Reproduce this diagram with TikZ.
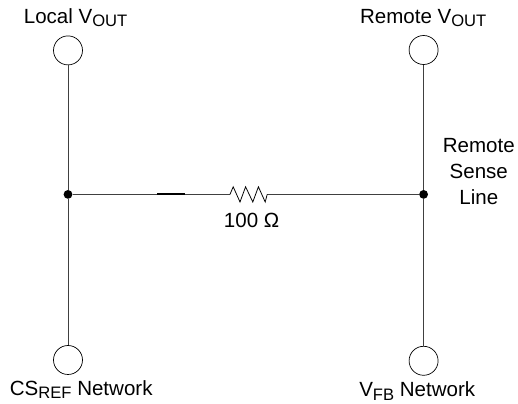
\documentclass[tikz,border=0pt]{standalone}
\usepackage{fontspec}
\setmainfont{Liberation Sans}
\newcommand{\subtxt}[1]{\raisebox{-0.35ex}{\fontsize{11.8}{12}\selectfont #1}}
\tikzset{
    pad/.style={draw, circle, minimum size=0.725cm, inner sep=0pt, line width=0.5pt},
    junction/.style={fill, circle, minimum size=0.22cm, inner sep=0pt},
    wire/.style={draw=black!75, line width=0.65pt},
    label/.style={inner sep=0pt, anchor=base, font=\fontsize{14.6}{18.5}\selectfont, align=center}
}
\begin{document}
\begin{tikzpicture}
    \useasboundingbox (0, 0) rectangle (12.95, 10.1);

    % Terminales
    \node[pad] (localout) at (1.7, 8.84) {};
    \node[pad] (remoteout) at (10.59, 8.85) {};
    \node[pad] (csref) at (1.7, 1.1) {};
    \node[pad] (vfb) at (10.59, 1.08) {};

    % Puntos de union
    \node[junction] (left) at (1.7, 5.24) {};
    \node[junction] (right) at (10.59, 5.24) {};

    % Extremos de la resistencia y del tramo grueso
    \coordinate (resin) at (5.75, 5.24);
    \coordinate (resout) at (6.68, 5.24);
    \coordinate (thickin) at (3.93, 5.24);
    \coordinate (thickout) at (4.63, 5.24);

    % Lineas
    \draw[wire] (localout) -- (left);
    \draw[wire] (left) -- (csref);
    \draw[wire] (remoteout) -- (right);
    \draw[wire] (right) -- (vfb);
    \draw[wire] (left) -- (resin);
    \draw[wire] (resout) -- (right);
    \draw[line width=1.4pt] (thickin) -- (thickout);

    % Resistencia
    \draw[line width=0.55pt, line join=miter] (resin) -- (5.83, 5.43) -- (6, 5.05) -- (6.14, 5.43)
        -- (6.32, 5.05) -- (6.46, 5.43) -- (6.63, 5.05) -- (resout);

    % Etiquetas
    \node[label] (locallabel) at (1.89, 9.52) {Local V\subtxt{OUT}};
    \node[label] (remotelabel) at (10.58, 9.52) {Remote V\subtxt{OUT}};
    \node[label] (cslabel) at (2.03, 0.22) {CS\subtxt{REF} Network};
    \node[label] (vfblabel) at (10.43, 0.18) {V\subtxt{FB} Network};
    \node[label, anchor=center] (senselabel) at (11.97, 5.8) {Remote\\Sense\\Line};
    \node[label] (reslabel) at (6.29, 4.4) {100 Ω};
\end{tikzpicture}
\end{document}
